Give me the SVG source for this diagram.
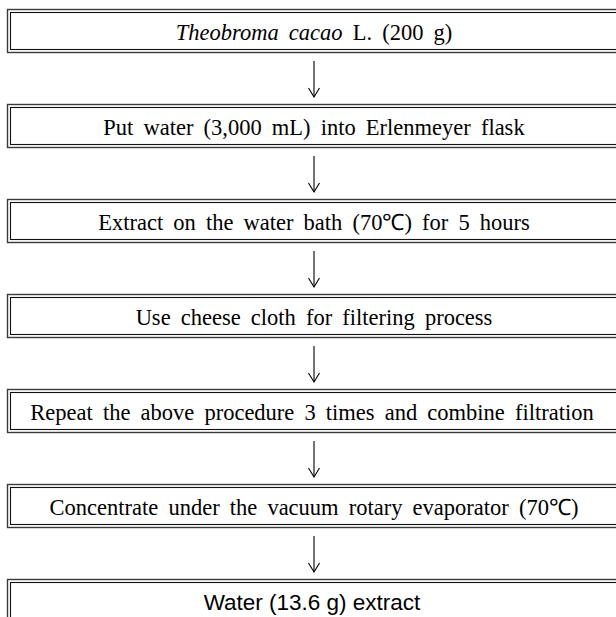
<svg xmlns="http://www.w3.org/2000/svg" width="616" height="617" viewBox="0 0 616 617">
<defs>
<style>
.o{fill:#fff;stroke:#3a3a3a;stroke-width:1.4}
.i{fill:none;stroke:#111;stroke-width:1.1}
.t{font-family:"Liberation Serif","Times New Roman",serif;font-size:22.5px;fill:#000;text-anchor:middle;word-spacing:4.5px}
.s{font-family:"Liberation Sans",Arial,sans-serif;font-size:22.5px;fill:#000;text-anchor:middle}
.c line,.c polyline{stroke:#000;stroke-width:1.1;fill:none}
</style>
</defs>
<rect width="616" height="617" fill="#fff"/>
<g id="n1"><rect class="o" x="7.5" y="9.5" width="620" height="43"/><rect class="i" x="10.5" y="12.5" width="620" height="37"/><text class="t" x="314" y="39.5"><tspan font-style="italic">Theobroma cacao</tspan> L. (200 g)</text></g>
<g id="n2"><rect class="o" x="7.5" y="104.5" width="620" height="43"/><rect class="i" x="10.5" y="107.5" width="620" height="37"/><text class="t" x="314" y="134.5">Put water (3,000 mL) into Erlenmeyer flask</text></g>
<g id="n3"><rect class="o" x="7.5" y="199.5" width="620" height="43"/><rect class="i" x="10.5" y="202.5" width="620" height="37"/><text class="t" x="314" y="229.5">Extract on the water bath (70℃) for 5 hours</text></g>
<g id="n4"><rect class="o" x="7.5" y="294.5" width="620" height="43"/><rect class="i" x="10.5" y="297.5" width="620" height="37"/><text class="t" x="314" y="324.5">Use cheese cloth for filtering process</text></g>
<g id="n5"><rect class="o" x="7.5" y="389.5" width="620" height="43"/><rect class="i" x="10.5" y="392.5" width="620" height="37"/><text class="t" x="312" y="419.5" word-spacing="6">Repeat the above procedure 3 times and combine filtration</text></g>
<g id="n6"><rect class="o" x="7.5" y="484.5" width="620" height="43"/><rect class="i" x="10.5" y="487.5" width="620" height="37"/><text class="t" x="314" y="514.5">Concentrate under the vacuum rotary evaporator (70℃)</text></g>
<g id="n7"><rect class="o" x="7.5" y="579.5" width="620" height="43"/><rect class="i" x="10.5" y="582.5" width="620" height="37"/><text class="s" x="312" y="610">Water (13.6 g) extract</text></g>
<g class="c" id="connectors">
<line x1="314" y1="61" x2="314" y2="97"/><polyline points="308.5,88 314,97 319.5,88"/>
<line x1="314" y1="156" x2="314" y2="192"/><polyline points="308.5,183 314,192 319.5,183"/>
<line x1="314" y1="251" x2="314" y2="287"/><polyline points="308.5,278 314,287 319.5,278"/>
<line x1="314" y1="346" x2="314" y2="382"/><polyline points="308.5,373 314,382 319.5,373"/>
<line x1="314" y1="441" x2="314" y2="477"/><polyline points="308.5,468 314,477 319.5,468"/>
<line x1="314" y1="536" x2="314" y2="572"/><polyline points="308.5,563 314,572 319.5,563"/>
</g>
</svg>
